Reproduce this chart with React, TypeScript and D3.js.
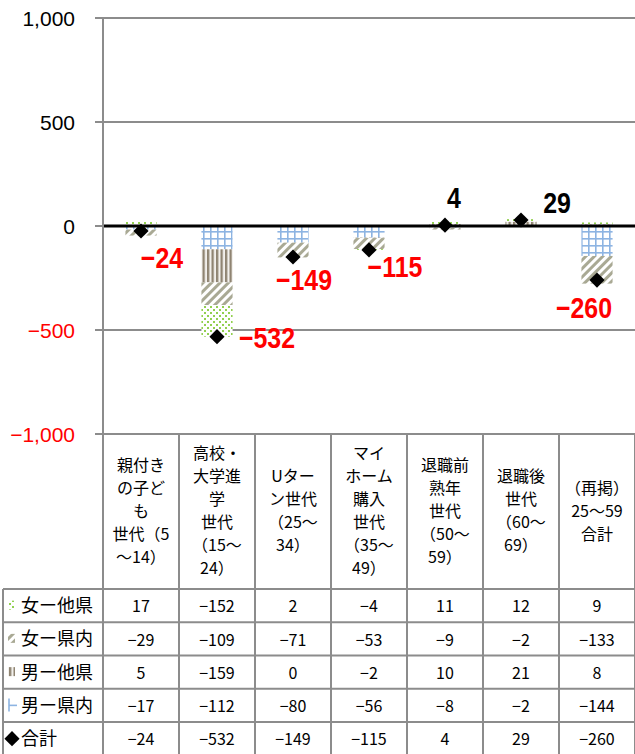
import * as d3 from "d3";
import React, { useEffect, useRef, RefObject } from "react";

// column headers, one entry per line
const categories = [
    ["親付き", "の子ど", "も", "世代（5", "～14）"],
    ["高校・", "大学進", "学", "世代", "（15～", "24）"],
    ["Uター", "ン世代", "（25～", "34）"],
    ["マイ", "ホーム", "購入", "世代", "（35～", "49）"],
    ["退職前", "熟年", "世代", "（50～", "59）"],
    ["退職後", "世代", "（60～", "69）"],
    ["（再掲）", "25～59", "合計"],
];

const femaleOther = [17, -152, 2, -4, 11, 12, 9];
const femaleIn = [-29, -109, -71, -53, -9, -2, -133];
const maleOther = [5, -159, 0, -2, 10, 21, 8];
const maleIn = [-17, -112, -80, -56, -8, -2, -144];
const totals = [-24, -532, -149, -115, 4, 29, -260];

const rowNames = ["女ー他県", "女ー県内", "男ー他県", "男ー県内", "合計"];
const yTicks = [-1000, -500, 0, 500, 1000];

// where each total label sits relative to its marker
const labelOffsets = [[21, 37], [50, 11], [11, 33], [26, 27], [9, -17], [36, -7], [-13, 38]];

const fmt = (v: number) => d3.format(",")(v).replace("-", "−");

function drawChart(svgRef: RefObject<SVGSVGElement>) {
    const width = 635;
    const height = 754;
    const plotLeft = 103;
    const plotRight = 635;
    const plotTop = 18;
    const plotBottom = 434;
    const tableTop = 589;
    const rowH = 33.25;
    const grey = "#8c8c8c";
    const jp = "'Noto Sans CJK JP', sans-serif";

    let svg = d3.select(svgRef.current)
        .attr("width", width)
        .attr("height", height)
        .attr("viewBox", "0 0 " + width + " " + height)

    svg.selectAll("*").remove();

    svg.append("rect").attr("width", width).attr("height", height).attr("fill", "#fff")

    // fill patterns
    let defs = svg.append("defs")
    let pMaleIn = defs.append("pattern").attr("id", "pMaleIn").attr("patternUnits", "userSpaceOnUse")
        .attr("width", 7).attr("height", 7)
    pMaleIn.append("rect").attr("width", 7).attr("height", 7).attr("fill", "#fff")
    pMaleIn.append("rect").attr("x", 0).attr("width", 1.6).attr("height", 7).attr("fill", "#8db4e2")
    pMaleIn.append("rect").attr("y", 0).attr("width", 7).attr("height", 1.6).attr("fill", "#8db4e2")

    let pMaleOther = defs.append("pattern").attr("id", "pMaleOther").attr("patternUnits", "userSpaceOnUse")
        .attr("width", 4.5).attr("height", 4)
    pMaleOther.append("rect").attr("width", 4.5).attr("height", 4).attr("fill", "#f2f0ec")
    pMaleOther.append("rect").attr("width", 2.3).attr("height", 4).attr("fill", "#8f8472")

    let pFemaleIn = defs.append("pattern").attr("id", "pFemaleIn").attr("patternUnits", "userSpaceOnUse")
        .attr("width", 6).attr("height", 6).attr("patternTransform", "rotate(45)")
    pFemaleIn.append("rect").attr("width", 6).attr("height", 6).attr("fill", "#fff")
    pFemaleIn.append("rect").attr("width", 3).attr("height", 6).attr("fill", "#a9a994")

    let pFemaleOther = defs.append("pattern").attr("id", "pFemaleOther").attr("patternUnits", "userSpaceOnUse")
        .attr("width", 6).attr("height", 6)
    pFemaleOther.append("rect").attr("width", 6).attr("height", 6).attr("fill", "#fff")
    pFemaleOther.append("rect").attr("x", 0).attr("y", 0).attr("width", 2).attr("height", 2).attr("fill", "#92d050")
    pFemaleOther.append("rect").attr("x", 3).attr("y", 3).attr("width", 2).attr("height", 2).attr("fill", "#92d050")

    const keys = ["maleIn", "maleOther", "femaleIn", "femaleOther"];
    const fills: any = {
        maleIn: "url(#pMaleIn)", maleOther: "url(#pMaleOther)",
        femaleIn: "url(#pFemaleIn)", femaleOther: "url(#pFemaleOther)",
    };

    let rows = categories.map((c, i) => ({
        idx: i,
        maleIn: maleIn[i], maleOther: maleOther[i],
        femaleIn: femaleIn[i], femaleOther: femaleOther[i],
    }))

    let x = d3.scaleBand<number>()
        .domain(categories.map((c, i) => i))
        .range([plotLeft, plotRight])

    let y = d3.scaleLinear()
        .domain([-1000, 1000])
        .range([plotBottom, plotTop])

    const barW = x.bandwidth() * 0.41;
    const cx = (i: number) => (x(i) || 0) + x.bandwidth() / 2;

    // gridlines + ticks
    svg.selectAll(".grid")
        .data(yTicks.filter(t => t !== 0))
        .enter().append("line")
        .attr("x1", plotLeft - 8).attr("x2", plotRight)
        .attr("y1", (d) => y(d)).attr("y2", (d) => y(d))
        .attr("stroke", grey).attr("stroke-width", 2)

    svg.append("line")
        .attr("x1", plotLeft - 8).attr("x2", plotLeft)
        .attr("y1", y(0)).attr("y2", y(0))
        .attr("stroke", grey).attr("stroke-width", 2)

    svg.selectAll(".ytick")
        .data(yTicks)
        .enter().append("text")
        .attr("x", 75)
        .attr("y", (d) => y(d))
        .attr("dy", "0.36em")
        .attr("text-anchor", "end")
        .attr("fill", (d) => d < 0 ? "#ff0000" : "#000")
        .style("font", "21px 'Liberation Sans', Arial, sans-serif")
        .text((d) => fmt(d))

    // stacked bars
    let stack = d3.stack<any>().keys(keys).offset(d3.stackOffsetDiverging)
    let layers = stack(rows)

    layers.forEach((layer) => {
        svg.selectAll(".bar-" + layer.key)
            .data(layer)
            .enter().append("rect")
            .attr("x", (d: any) => cx(d.data.idx) - barW / 2)
            .attr("y", (d: any) => y(d[1]))
            .attr("width", barW)
            .attr("height", (d: any) => y(d[0]) - y(d[1]))
            .attr("fill", fills[layer.key])
    })

    // zero line
    svg.append("line")
        .attr("x1", plotLeft).attr("x2", plotRight)
        .attr("y1", y(0)).attr("y2", y(0))
        .attr("stroke", "#000").attr("stroke-width", 3)

    // table lines
    svg.append("line")
        .attr("x1", plotLeft).attr("x2", plotLeft)
        .attr("y1", plotTop).attr("y2", height)
        .attr("stroke", grey).attr("stroke-width", 2)

    categories.forEach((c, i) => {
        svg.append("line")
            .attr("x1", (x(i) || 0) + x.bandwidth()).attr("x2", (x(i) || 0) + x.bandwidth())
            .attr("y1", plotBottom).attr("y2", height)
            .attr("stroke", grey).attr("stroke-width", 2)
    })

    svg.append("line")
        .attr("x1", 3).attr("x2", 3)
        .attr("y1", tableTop).attr("y2", height)
        .attr("stroke", grey).attr("stroke-width", 2)

    rowNames.forEach((r, k) => {
        svg.append("line")
            .attr("x1", 3).attr("x2", plotRight)
            .attr("y1", tableTop + k * rowH).attr("y2", tableTop + k * rowH)
            .attr("stroke", grey).attr("stroke-width", 2)
    })

    // column headers
    categories.forEach((lines, i) => {
        const lh = 23;
        const mid = 511;
        let t = svg.append("text")
            .attr("text-anchor", "middle")
            .style("font", "16px " + jp)
        lines.forEach((ln, j) => {
            t.append("tspan")
                .attr("x", cx(i))
                .attr("y", mid + (j - (lines.length - 1) / 2) * lh)
                .attr("dy", "0.36em")
                .text(ln)
        })
    })

    // table values
    const tableSeries = [femaleOther, femaleIn, maleOther, maleIn, totals];
    tableSeries.forEach((vals, k) => {
        const ry = tableTop + (k + 0.5) * rowH;
        svg.append("text")
            .attr("x", 21)
            .attr("y", ry)
            .attr("dy", "0.36em")
            .style("font", "18px " + jp)
            .text(rowNames[k])
        svg.selectAll(".val" + k)
            .data(vals)
            .enter().append("text")
            .attr("x", (d, i) => cx(i))
            .attr("y", ry + 1)
            .attr("dy", "0.36em")
            .attr("text-anchor", "middle")
            .style("font", "16px " + jp)
            .text((d) => fmt(d))
    })

    // legend keys in the table
    const keyFills = [fills.femaleOther, fills.femaleIn, fills.maleOther];
    keyFills.forEach((f, k) => {
        svg.append("rect")
            .attr("x", 8).attr("y", tableTop + (k + 0.5) * rowH - 5)
            .attr("width", 7).attr("height", 9)
            .attr("fill", f)
    })
    const kY = tableTop + 3.5 * rowH;
    svg.append("line").attr("x1", 9).attr("x2", 9).attr("y1", kY - 7).attr("y2", kY + 6)
        .attr("stroke", "#8db4e2").attr("stroke-width", 1.6)
    svg.append("line").attr("x1", 9).attr("x2", 17).attr("y1", kY).attr("y2", kY)
        .attr("stroke", "#8db4e2").attr("stroke-width", 1.6)

    const diamond = d3.symbol().type(d3.symbolSquare).size(115)
    svg.append("path")
        .attr("d", diamond())
        .attr("transform", `translate(12,${tableTop + 4.5 * rowH}) rotate(45)`)
        .attr("fill", "#000")

    // total markers + labels
    svg.selectAll(".marker")
        .data(totals)
        .enter().append("path")
        .attr("d", diamond())
        .attr("transform", (d, i) => `translate(${cx(i)},${y(d)}) rotate(45)`)
        .attr("fill", "#000")

    // narrow bold labels: squeeze horizontally
    svg.selectAll(".label")
        .data(totals)
        .enter().append("text")
        .attr("transform", (d, i) => `translate(${cx(i) + labelOffsets[i][0]},${y(d) + labelOffsets[i][1]}) scale(0.86,1)`)
        .attr("text-anchor", "middle")
        .attr("fill", (d) => d < 0 ? "#ff0000" : "#000")
        .style("font", "bold 29px 'Liberation Sans', Arial, sans-serif")
        .text((d) => fmt(d))
}

export default function App() {
    const svg = useRef<SVGSVGElement>(null);
    useEffect(() => {
        drawChart(svg);
    });

    return (
        <div style={{ position: "absolute", left: 0, top: 0 }}>
            <svg ref={svg} style={{ display: "block" }}></svg>
        </div>
    )
}
